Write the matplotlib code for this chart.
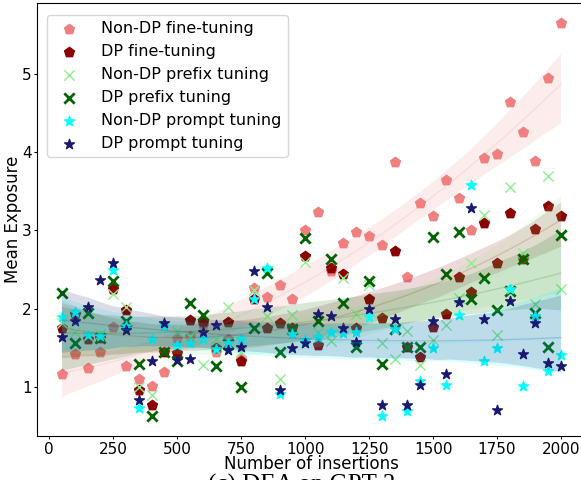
import numpy as np
import matplotlib
matplotlib.use('Agg')
import matplotlib.pyplot as plt
import seaborn as sns

# number of inserted canaries
insertions = list(range(50, 2001, 50))

# mean exposure per method
nondp_ft = [1.17, 1.43, 1.25, 1.45, 1.77, 1.27, 1.10, 1.02, 1.19, 1.63,
            1.65, 1.80, 1.45, 1.62, 1.38, 2.27, 2.15, 2.31, 2.13, 3.00,
            3.24, 2.48, 2.84, 2.98, 2.93, 2.81, 3.87, 2.41, 3.35, 3.18,
            3.65, 3.42, 3.01, 3.93, 3.97, 4.64, 4.26, 3.88, 4.94, 5.65]
dp_ft = [1.76, 1.93, 1.62, 1.63, 2.26, 1.99, 0.97, 0.77, 1.45, 1.44,
         1.86, 1.83, 1.50, 1.83, 1.34, 2.12, 1.76, 1.82, 1.76, 2.67,
         1.54, 2.52, 2.45, 1.76, 2.12, 1.89, 2.74, 1.51, 1.39, 1.77,
         1.93, 2.41, 2.22, 3.09, 2.59, 3.22, 2.64, 3.02, 3.31, 3.19]
nondp_prefix = [1.82, 1.71, 1.66, 1.68, 2.19, 2.02, 1.01, 0.90, 1.45, 1.72,
                1.65, 1.29, 1.62, 2.03, 1.45, 2.24, 1.91, 1.11, 1.92, 2.60,
                1.71, 1.59, 2.40, 1.94, 2.30, 1.57, 1.36, 1.72, 1.28, 1.60,
                1.80, 2.14, 2.58, 3.20, 1.67, 3.55, 2.71, 2.06, 3.69, 2.25]
dp_prefix = [2.20, 1.57, 1.95, 1.63, 2.35, 1.84, 1.30, 0.63, 1.45, 1.33,
             2.07, 1.92, 1.27, 1.55, 1.00, 1.76, 2.46, 1.45, 1.74, 2.90,
             1.85, 2.63, 2.08, 1.51, 2.36, 1.30, 1.74, 1.51, 1.52, 2.92,
             2.45, 2.98, 2.12, 2.40, 1.98, 2.23, 2.63, 1.95, 1.52, 2.94]
nondp_prompt = [1.90, 1.96, 1.67, 1.65, 2.50, 1.78, 0.74, 1.62, 1.78, 1.54,
                1.57, 1.61, 1.49, 1.56, 1.62, 2.12, 2.52, 0.92, 1.68, 1.60,
                1.64, 1.71, 1.69, 1.71, 1.90, 0.64, 1.74, 0.70, 1.08, 1.50,
                1.03, 1.92, 3.58, 1.33, 1.50, 2.25, 1.02, 1.91, 1.21, 1.41]
dp_prompt = [1.64, 1.84, 2.03, 2.37, 2.59, 1.73, 0.84, 1.33, 1.82, 1.35,
             1.36, 1.71, 1.80, 1.48, 1.52, 2.48, 2.03, 0.96, 1.50, 1.57,
             1.94, 1.91, 1.75, 1.58, 2.00, 0.78, 1.87, 0.78, 1.03, 1.84,
             1.17, 2.09, 3.29, 1.87, 0.71, 2.10, 1.43, 1.82, 1.31, 1.27]

labels = ['Non-DP fine-tuning', 'DP fine-tuning', 'Non-DP prefix tuning',
          'DP prefix tuning', 'Non-DP prompt tuning', 'DP prompt tuning']
series = [nondp_ft, dp_ft, nondp_prefix, dp_prefix, nondp_prompt, dp_prompt]
colors = ['lightcoral', 'darkred', 'lightgreen', 'darkgreen', 'cyan', 'midnightblue']
markers = ['p', 'p', 'x', 'x', '*', '*']
lws = [1, 1, 1, 2, 1, 1]

fig = plt.figure(figsize=(5.81, 4.8), dpi=100)
ax = fig.add_axes([37/581, 44/480, 549/581, 433/480])

x = np.array(insertions)
for y, lab, c, m, lw in zip(series, labels, colors, markers, lws):
    sns.regplot(x=x, y=np.array(y), order=2, ax=ax, color=c, marker=m,
                label=lab, seed=0,
                scatter_kws={'s': 55, 'alpha': 1, 'linewidths': lw},
                line_kws={'alpha': 0.15, 'lw': 1})

ax.set_xlabel('Number of insertions', fontsize=12, labelpad=-1)
ax.set_ylabel('Mean Exposure', fontsize=12, labelpad=0)
ax.set_xticks([0, 250, 500, 750, 1000, 1250, 1500, 1750, 2000])
ax.tick_params(labelsize=11)
ax.tick_params(axis='y', length=2.5, pad=1.5)
ax.tick_params(axis='x', length=2, pad=2)
ax.legend(loc='upper left', fontsize=11.5, scatterpoints=1, handletextpad=1.0,
          labelspacing=0.5, borderaxespad=0.6, bbox_to_anchor=(0.0, 0.995))

# subfigure caption (cut off at the bottom of the image)
fig.text(0.52, 0.013, '(c) DEA on GPT-2', fontsize=18, va='top', ha='center',
         family=['Liberation Serif', 'DejaVu Serif'])

fig.savefig('out.png', dpi=100)
